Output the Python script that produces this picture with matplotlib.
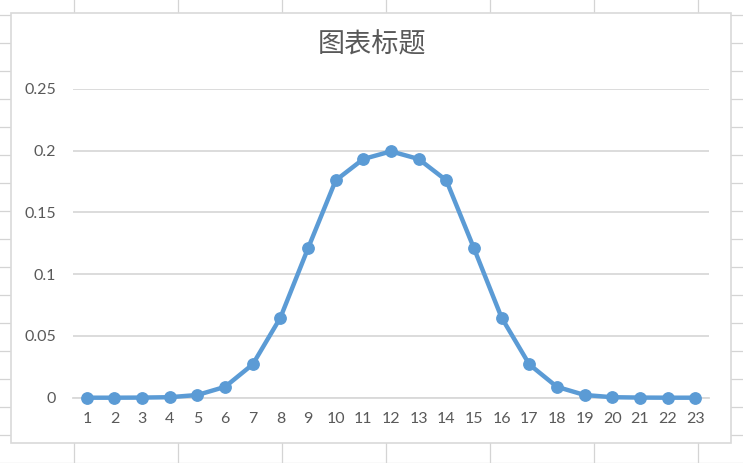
import matplotlib
matplotlib.use("Agg")
import matplotlib.pyplot as plt
from matplotlib.lines import Line2D
from matplotlib.patches import Rectangle

categories = [str(i) for i in range(1, 24)]
values = [0.0000, 0.0000, 0.0001, 0.0004, 0.0022, 0.0088, 0.0270, 0.0648,
          0.1210, 0.1760, 0.1933, 0.1995, 0.1933, 0.1760, 0.1210, 0.0648,
          0.0270, 0.0088, 0.0022, 0.0004, 0.0001, 0.0000, 0.0000]
yticks = [0, 0.05, 0.1, 0.15, 0.2, 0.25]
ytick_labels = ["0", "0.05", "0.1", "0.15", "0.2", "0.25"]
title = "图表标题"

W, H = 743, 463
fig = plt.figure(figsize=(W / 100, H / 100), dpi=100)
fig.patch.set_facecolor("white")

grid_c = "#d4d4d4"
# spreadsheet cell grid in the background
for x in [74, 178, 282, 386, 490, 594, 698]:
    fig.add_artist(Line2D([x / W, x / W], [0, 1], color=grid_c, lw=0.9, zorder=0))
for y in range(15, 464, 28):
    fig.add_artist(Line2D([0, 1], [1 - y / H, 1 - y / H], color=grid_c, lw=0.9, zorder=0))

# chart area
fig.add_artist(Rectangle((11 / W, 1 - 443 / H), (731 - 11) / W, (443 - 13) / H,
                         facecolor="white", edgecolor="#d9d9d9", lw=1.2, zorder=1))

ax = fig.add_axes([73 / W, 1 - 397.7 / H, (709 - 73) / W, (397.7 - 89) / H])
ax.set_zorder(2)
ax.patch.set_alpha(0)

xs = list(range(1, len(categories) + 1))
ax.plot(xs, values, color="#5b9bd5", lw=3.2, marker="o", markersize=8.2,
        markerfacecolor="#5b9bd5", markeredgecolor="#5b9bd5", clip_on=False, zorder=3,
        solid_capstyle="round", solid_joinstyle="round")

ax.set_xlim(0.5, len(categories) + 0.5)
ax.set_ylim(0, 0.25)
ax.set_yticks(yticks)
ax.set_yticklabels(ytick_labels)
ax.set_xticks(xs)
ax.set_xticklabels(categories)
ax.yaxis.grid(True, color="#d9d9d9", lw=1.3)
ax.set_axisbelow(True)
for s in ["top", "right", "left"]:
    ax.spines[s].set_visible(False)
ax.spines["bottom"].set_color("#d9d9d9")
ax.spines["bottom"].set_linewidth(1.3)
ax.tick_params(axis="both", length=0, colors="#595959", labelsize=11.5)
ax.tick_params(axis="y", pad=12)
ax.tick_params(axis="x", pad=10)
for lab in ax.get_xticklabels() + ax.get_yticklabels():
    lab.set_family(["Lato", "DejaVu Sans"])

fig.text(372 / W, 1 - 45 / H, title, ha="center", va="center", fontsize=19.5,
         color="#595959", family=["Noto Sans CJK SC", "DejaVu Sans"])

fig.savefig("out.png", dpi=100)
